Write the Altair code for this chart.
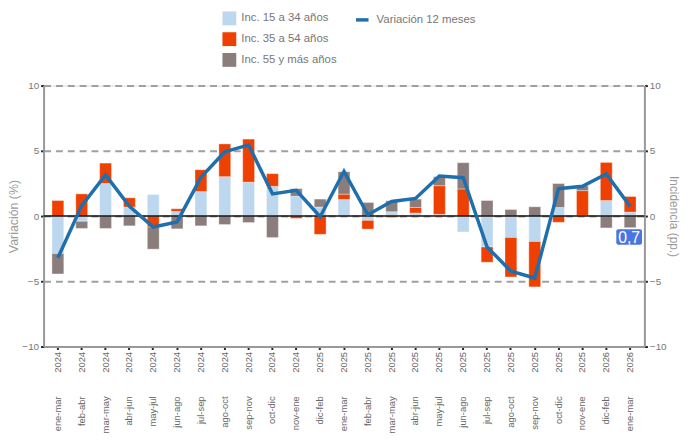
import altair as alt
import pandas as pd

categories = [
    "ene-mar 2024", "feb-abr 2024", "mar-may 2024", "abr-jun 2024", "may-jul 2024",
    "jun-ago 2024", "jul-sep 2024", "ago-oct 2024", "sep-nov 2024", "oct-dic 2024",
    "nov-ene 2024", "dic-feb 2025", "ene-mar 2025", "feb-abr 2025", "mar-may 2025",
    "abr-jun 2025", "may-jul 2025", "jun-ago 2025", "jul-sep 2025", "ago-oct 2025",
    "sep-nov 2025", "oct-dic 2025", "nov-ene 2025", "dic-feb 2026", "ene-mar 2026",
]

inc_15_34 = [-2.87, -0.40, 2.50, 0.69, 1.65, 0.36, 1.88, 3.02, 2.60, 2.28,
             1.52, 0.69, 1.27, -0.33, 0.33, 0.23, 0.13, -1.22, -2.37, -1.64,
             -1.95, 0.66, 0.05, 1.19, 0.30]
inc_35_54 = [1.19, 1.70, 1.56, 0.71, -0.84, 0.20, 1.67, 2.51, 3.30, 0.97,
             -0.18, -1.40, 0.41, -0.67, -0.10, 0.43, 2.20, 2.08, -1.17, -3.03,
             -3.48, -0.48, 1.90, 2.92, 1.20]
inc_55_mas = [-1.57, -0.55, -0.95, -0.75, -1.70, -0.98, -0.75, -0.65, -0.50, -1.65,
              0.58, 0.61, 1.72, 1.04, 0.84, 0.64, 0.69, 2.01, 1.19, 0.50,
              0.71, 1.83, 0.36, -0.91, -0.89]
var_12_meses = [-3.20, 0.80, 3.15, 0.74, -0.84, -0.45, 2.97, 4.92, 5.45, 1.70,
                1.97, -0.05, 3.43, 0.10, 1.12, 1.35, 3.07, 2.94, -2.37, -4.22,
                -4.75, 2.10, 2.28, 3.22, 0.74]

series_names = ["Inc. 15 a 34 años", "Inc. 35 a 54 años", "Inc. 55 y más años"]
series_colors = ["#bdd7ee", "#ee4000", "#8b7d7b"]
line_name = "Variación 12 meses"
line_color = "#1f6fad"
y_ticks = [-10, -5, 0, 5, 10]

rows = []
for i, cat in enumerate(categories):
    for s, vals in enumerate([inc_15_34, inc_35_54, inc_55_mas]):
        rows.append({"cat": cat, "serie": series_names[s], "orden": s, "valor": vals[i]})
bars_df = pd.DataFrame(rows)
line_df = pd.DataFrame({"cat": categories, "valor": var_12_meses, "serie": [line_name] * len(categories)})
last_label = f"{var_12_meses[-1]:.1f}".replace(".", ",")
lbl_df = pd.DataFrame({"cat": [categories[-1]], "valor": [var_12_meses[-1]], "texto": [last_label]})
zero_df = pd.DataFrame({"y": [0]})

FONT = "Liberation Sans"


def xscale():
    return alt.Scale(type="band", domain=categories, paddingInner=0, paddingOuter=0.1)


def yscale():
    return alt.Scale(domain=[-10, 10], nice=False, zero=False)


bars = alt.Chart(bars_df).mark_bar(size=12, stroke="white", strokeWidth=1, strokeOpacity=0.35).encode(
    x=alt.X("cat:N", scale=xscale(), title=None,
            axis=alt.Axis(orient="bottom", labelExpr="split(datum.value, ' ')[1]",
                          labelAngle=-90, labelAlign="right", labelBaseline="middle",
                          labelPadding=2, tickSize=3, tickWidth=2, tickColor="#222",
                          domainColor="#999", domainWidth=2, labelFontSize=9.5,
                          labelColor="#666", labelFont=FONT, grid=False)),
    y=alt.Y("valor:Q", stack="zero", scale=yscale(), title="Variación (%)",
            axis=alt.Axis(orient="left", values=y_ticks, grid=True, gridDash=[7, 5],
                          gridColor="#a0a0a0", gridWidth=2, tickSize=3, tickWidth=2,
                          tickColor="#222", domainColor="#999", domainWidth=2,
                          labelFontSize=10, labelColor="#777", labelPadding=2,
                          labelFont=FONT, titleFont=FONT, titleFontSize=12.5,
                          titleFontWeight="normal", titleColor="#999", titlePadding=1)),
    color=alt.Color("serie:N", scale=alt.Scale(domain=series_names, range=series_colors),
                    legend=alt.Legend(orient="none", legendX=181, legendY=-75, title=None,
                                      symbolType="square", symbolSize=196, symbolStrokeWidth=0,
                                      labelFontSize=11.5, labelColor="#777", labelFont=FONT,
                                      rowPadding=7, labelOffset=5, padding=0)),
    order=alt.Order("orden:Q"),
)

zero = alt.Chart(zero_df).mark_rule(color="#111", strokeWidth=1.5).encode(
    y=alt.Y("y:Q", scale=yscale(), axis=None)
)

line = alt.Chart(line_df).mark_line(strokeWidth=3.5).encode(
    x=alt.X("cat:N", scale=xscale(), title=None,
            axis=alt.Axis(orient="bottom", labelExpr="split(datum.value, ' ')[0]",
                          labelAngle=-90, labelAlign="right", labelBaseline="middle",
                          labelPadding=50, ticks=False, domain=False, labelFontSize=9.5,
                          labelColor="#666", labelFont=FONT, grid=False)),
    y=alt.Y("valor:Q", scale=yscale(), title="Incidencia (pp.)",
            axis=alt.Axis(orient="right", values=y_ticks, grid=False, tickSize=3, tickWidth=2,
                          tickColor="#222", domainColor="#999", domainWidth=2,
                          labelFontSize=10, labelColor="#777", labelPadding=2,
                          labelFont=FONT, titleFont=FONT, titleFontSize=12,
                          titleFontWeight="normal", titleColor="#999", titlePadding=0,
                          titleAngle=90)),
    color=alt.Color("serie:N", scale=alt.Scale(domain=[line_name], range=[line_color]),
                    legend=alt.Legend(orient="none", legendX=314, legendY=-75, title=None,
                                      symbolType="stroke", symbolSize=160, symbolStrokeWidth=3.5,
                                      labelFontSize=11.5, labelColor="#777", labelFont=FONT,
                                      labelOffset=6, padding=0)),
)

box_path = ("M-0.85,-0.6H0.85A0.15,0.15 0 0 1 1,-0.45V0.45A0.15,0.15 0 0 1 0.85,0.6"
            "H-0.85A0.15,0.15 0 0 1 -1,0.45V-0.45A0.15,0.15 0 0 1 -0.85,-0.6Z")
box = alt.Chart(lbl_df).mark_point(shape=box_path, filled=True, size=676, color="#4a74e3",
                                   opacity=1, xOffset=-1, yOffset=31).encode(
    x=alt.X("cat:N", scale=xscale(), axis=None),
    y=alt.Y("valor:Q", scale=yscale(), axis=None),
)
txt = alt.Chart(lbl_df).mark_text(color="white", fontSize=16, font=FONT, xOffset=-1, yOffset=32,
                                  align="center", baseline="middle").encode(
    x=alt.X("cat:N", scale=xscale(), axis=None),
    y=alt.Y("valor:Q", scale=yscale(), axis=None),
    text="texto:N",
)

chart = alt.layer(bars, zero, line, box, txt).resolve_scale(
    y="independent", color="independent"
).resolve_axis(
    x="independent", y="independent"
).properties(
    width=608, height=264,
    autosize=alt.AutoSizeParams(type="none"),
    padding={"left": 36, "top": 76, "right": 36, "bottom": 85},
).configure_view(stroke=None).configure(font=FONT)

chart.save("out.html", embed_options={"renderer": "svg", "actions": False})
